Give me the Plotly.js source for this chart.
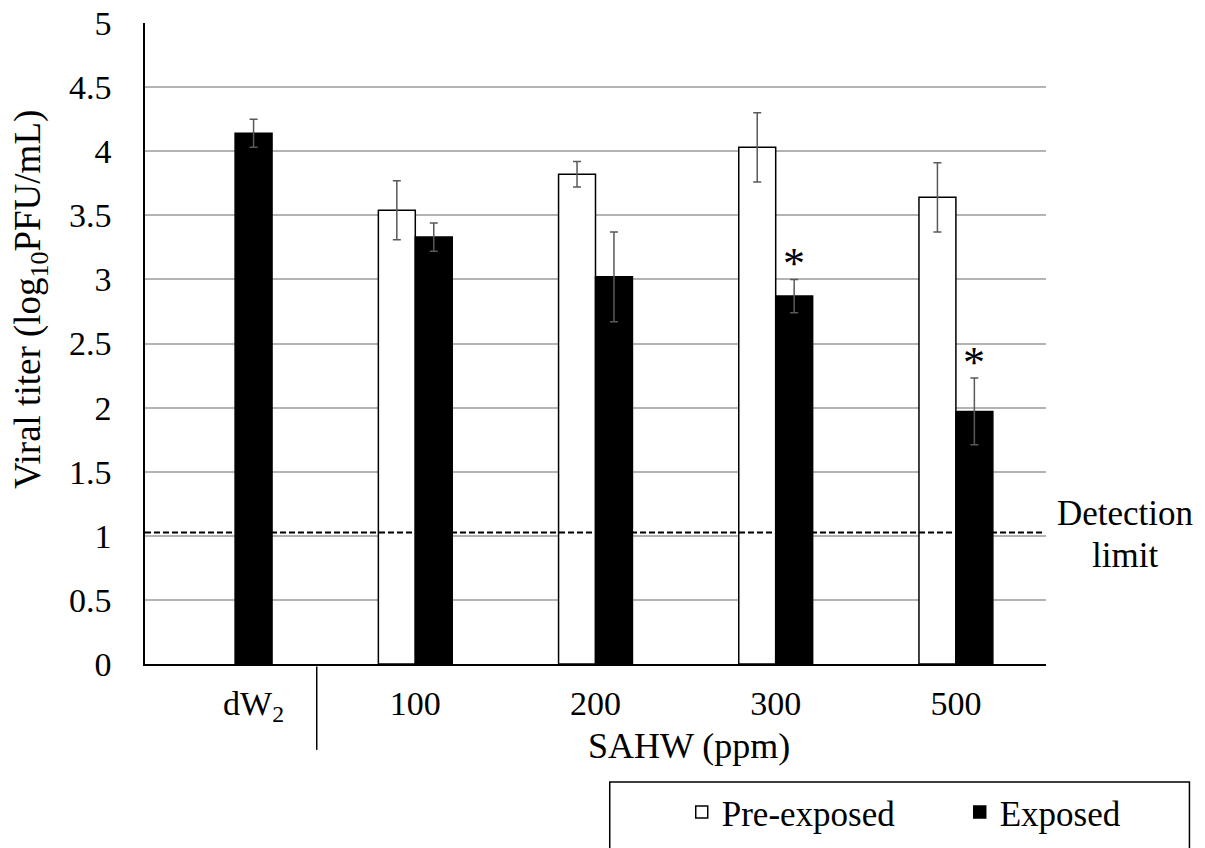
<!DOCTYPE html>
<html>
<head>
<meta charset="utf-8">
<script src="https://cdn.plot.ly/plotly-3.0.1.min.js"></script>
<style>
  html, body { margin: 0; padding: 0; background: #fff; }
  #chart { width: 1205px; height: 848px; }
</style>
</head>
<body>
<div id="chart"></div>
<script>
// ---- data ----
const categories = ['dW2', '100', '200', '300', '500'];
const tickLabels = ['dW<sub>2</sub>', '100', '200', '300', '500'];
const preExposed = [null, 3.54, 3.82, 4.03, 3.64];
const preExposedErr = [null, 0.23, 0.10, 0.27, 0.27];
const exposed = [4.14, 3.33, 3.02, 2.87, 1.97];
const exposedErr = [0.11, 0.11, 0.35, 0.13, 0.26];
const significant = [false, false, false, true, true];
const detectionLimit = 1.025;
const xTitle = 'SAHW (ppm)';
const yTitle = 'Viral titer (log<sub>10</sub>PFU/mL)';

// ---- styling ----
const FONT = 'Liberation Serif, Times New Roman, serif';
const FS = 34;
const BARW = 0.205;
const xPos = categories.map((c, i) => i);
// the control label sits over its single bar
const tickPos = xPos.map((p, i) => (i === 0 ? p + BARW / 2 : p));

const errStyle = { type: 'data', visible: true, color: '#595959', thickness: 1.5, width: 4 };

const traces = [
  {
    type: 'bar', name: 'Pre-exposed', x: xPos, y: preExposed,
    offset: -BARW, width: BARW, legendwidth: 233,
    marker: { color: '#ffffff', line: { color: '#000000', width: 1.5 } },
    error_y: Object.assign({ array: preExposedErr }, errStyle),
    customdata: categories, hovertemplate: '%{customdata}: %{y}<extra>Pre-exposed</extra>'
  },
  {
    type: 'bar', name: 'Exposed', x: xPos, y: exposed,
    offset: 0, width: BARW,
    marker: { color: '#000000', line: { color: '#000000', width: 1.5 } },
    error_y: Object.assign({ array: exposedErr }, errStyle),
    customdata: categories, hovertemplate: '%{customdata}: %{y}<extra>Exposed</extra>'
  }
];

const annotations = [
  { xref: 'paper', yref: 'paper', x: -0.1265, y: 0.568, text: yTitle, textangle: -90,
    showarrow: false, xanchor: 'center', yanchor: 'middle', font: { family: FONT, size: 37, color: '#000' } },
  { xref: 'x', yref: 'paper', x: 2.52, y: -0.0935, text: xTitle, showarrow: false,
    xanchor: 'center', yanchor: 'top', font: { family: FONT, size: 36, color: '#000' } },
  { xref: 'paper', yref: 'y', x: 1.0875, y: 1.175, text: 'Detection', showarrow: false,
    xanchor: 'center', yanchor: 'middle', font: { family: FONT, size: 35, color: '#000' } },
  { xref: 'paper', yref: 'y', x: 1.0875, y: 0.85, text: 'limit', showarrow: false,
    xanchor: 'center', yanchor: 'middle', font: { family: FONT, size: 35, color: '#000' } }
];
significant.forEach((s, i) => {
  if (s) {
    annotations.push({
      xref: 'x', yref: 'y', x: xPos[i] + BARW / 2, y: exposed[i] + exposedErr[i],
      text: '*', showarrow: false, xanchor: 'center', yanchor: 'bottom', yshift: -11,
      font: { family: FONT, size: 44, color: '#000' }
    });
  }
});

const shapes = [
  { type: 'line', xref: 'paper', yref: 'y', x0: 0, x1: 0.996, y0: detectionLimit, y1: detectionLimit,
    line: { color: '#000', width: 2, dash: '6px,3px' }, layer: 'above' },
  { type: 'line', xref: 'x', yref: 'paper', x0: 0.453, x1: 0.453, y0: -0.004, y1: -0.134,
    line: { color: '#000', width: 1.5 } },
  { type: 'rect', xref: 'paper', yref: 'paper', x0: 0.5158, x1: 1.1592, y0: -0.1841, y1: -0.32,
    line: { color: '#000', width: 1.5 }, fillcolor: 'rgba(0,0,0,0)' }
];

const layout = {
  width: 1205, height: 848,
  margin: { l: 145, r: 158.5, t: 23, b: 184, pad: 0, autoexpand: false },
  paper_bgcolor: '#fff', plot_bgcolor: '#fff',
  font: { family: FONT, size: FS, color: '#000' },
  barmode: 'overlay',
  showlegend: true,
  legend: {
    orientation: 'h', x: 0.5957, xanchor: 'left', y: -0.2314, yanchor: 'middle',
    font: { family: FONT, size: 35, color: '#000' }, bgcolor: 'rgba(0,0,0,0)', borderwidth: 0,
    itemclick: false, itemdoubleclick: false
  },
  xaxis: {
    type: 'linear', range: [-0.5, 4.5],
    tickmode: 'array', tickvals: tickPos, ticktext: tickLabels,
    showline: true, linecolor: '#000', linewidth: 1.5, showgrid: false, zeroline: false,
    ticks: '', ticklabelstandoff: 8, tickfont: { family: FONT, size: FS, color: '#000' }, fixedrange: true
  },
  yaxis: {
    range: [0, 5], tick0: 0, dtick: 0.5,
    showline: true, linecolor: '#000', linewidth: 1.5, zeroline: false,
    showgrid: true, gridcolor: '#b3b3b3', gridwidth: 1.5,
    ticks: '', ticklabelstandoff: 25, tickfont: { family: FONT, size: FS, color: '#000' }, fixedrange: true
  },
  annotations: annotations,
  shapes: shapes
};

Plotly.newPlot('chart', traces, layout, { displayModeBar: false });
</script>
</body>
</html>
